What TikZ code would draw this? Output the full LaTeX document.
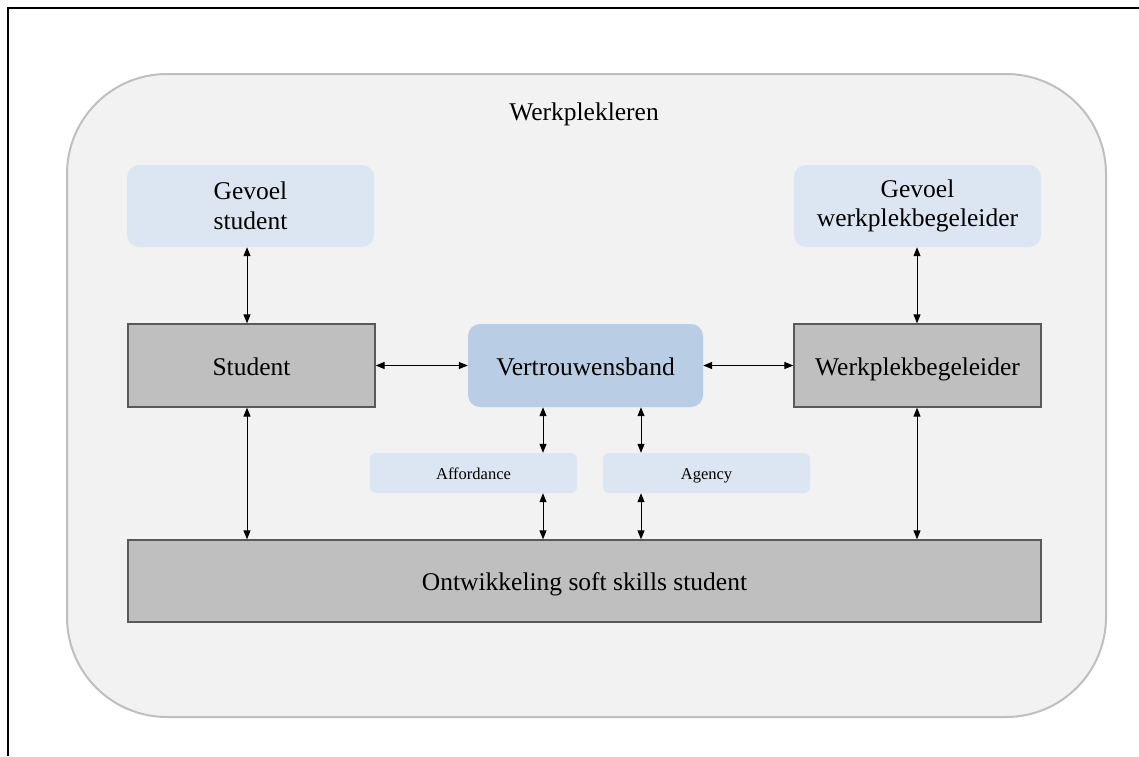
\documentclass[tikz,border=0pt]{standalone}
\usepackage{fontspec}
\setmainfont{Liberation Serif}
\usetikzlibrary{arrows.meta}
\definecolor{contfill}{HTML}{F2F2F2}
\definecolor{contdraw}{HTML}{BFBFBF}
\definecolor{lightblue}{HTML}{DCE6F2}
\definecolor{midblue}{HTML}{B9CDE5}
\definecolor{greyfill}{HTML}{BFBFBF}
\definecolor{greydraw}{HTML}{595959}
\tikzset{
  bigtext/.style={font=\fontsize{25.5}{29.5}\selectfont, align=center, text=black},
  oneline/.style={text height=22pt, text depth=3pt},
  smalltext/.style={font=\fontsize{16.5}{19}\selectfont, align=center, text=black, text height=13pt, text depth=0pt},
  feelbox/.style={bigtext, fill=lightblue, rounded corners=12pt, draw=none, minimum width=247pt, minimum height=82pt, inner sep=0pt},
  actorbox/.style={bigtext, oneline, fill=greyfill, draw=greydraw, line width=1.3pt, minimum width=247pt, minimum height=83pt, inner sep=0pt},
  bondbox/.style={bigtext, oneline, fill=midblue, rounded corners=12pt, draw=none, minimum width=235pt, minimum height=83pt, inner sep=0pt},
  factorbox/.style={smalltext, fill=lightblue, rounded corners=6pt, draw=none, minimum width=207pt, minimum height=40pt, inner sep=0pt},
  arr/.style={{Triangle[length=9pt,width=7pt]}-{Triangle[length=9pt,width=7pt]}, line width=1pt, black}
}
\begin{document}
\begin{tikzpicture}[x=1pt,y=-1pt]
\useasboundingbox (0,0) rectangle (1139,756);
\fill[white] (0,0) rectangle (1139,756);
% frame (top and left visible)
\draw[black, line width=2.4pt] (1139,8) -- (8,8) -- (8,756);
% container
\draw[fill=contfill, draw=contdraw, line width=2pt, rounded corners=100pt] (67,74) rectangle (1106,717);
\node[bigtext, oneline] (title) at (584,111) {Werkplekleren};
% nodes
\node[feelbox] (gs) at (250.5,206) {Gevoel\\student};
\node[feelbox] (gw) at (917.5,206) {Gevoel\\werkplekbegeleider};
\node[actorbox] (stud) at (251.5,365.5) {Student};
\node[actorbox] (wpb) at (917.5,365.5) {Werkplekbegeleider};
\node[bondbox] (vb) at (585.5,365.5) {Vertrouwensband};
\node[factorbox] (aff) at (473.5,473) {Affordance};
\node[factorbox] (ag) at (706.5,473) {Agency};
\node[actorbox, minimum width=913pt, minimum height=82pt] (ont) at (584.5,581) {Ontwikkeling soft skills student};
% connectors
\draw[arr] (gs.south -| 247,0) -- (stud.north -| 247,0);
\draw[arr] (gw.south -| 917,0) -- (wpb.north -| 917,0);
\draw[arr] (stud.east) -- (vb.west);
\draw[arr] (vb.east) -- (wpb.west);
\draw[arr] (vb.south -| 543,0) -- (aff.north -| 543,0);
\draw[arr] (vb.south -| 641,0) -- (ag.north -| 641,0);
\draw[arr] (aff.south -| 543,0) -- (ont.north -| 543,0);
\draw[arr] (ag.south -| 641,0) -- (ont.north -| 641,0);
\draw[arr] (stud.south -| 247,0) -- (ont.north -| 247,0);
\draw[arr] (wpb.south -| 917,0) -- (ont.north -| 917,0);
\end{tikzpicture}
\end{document}
